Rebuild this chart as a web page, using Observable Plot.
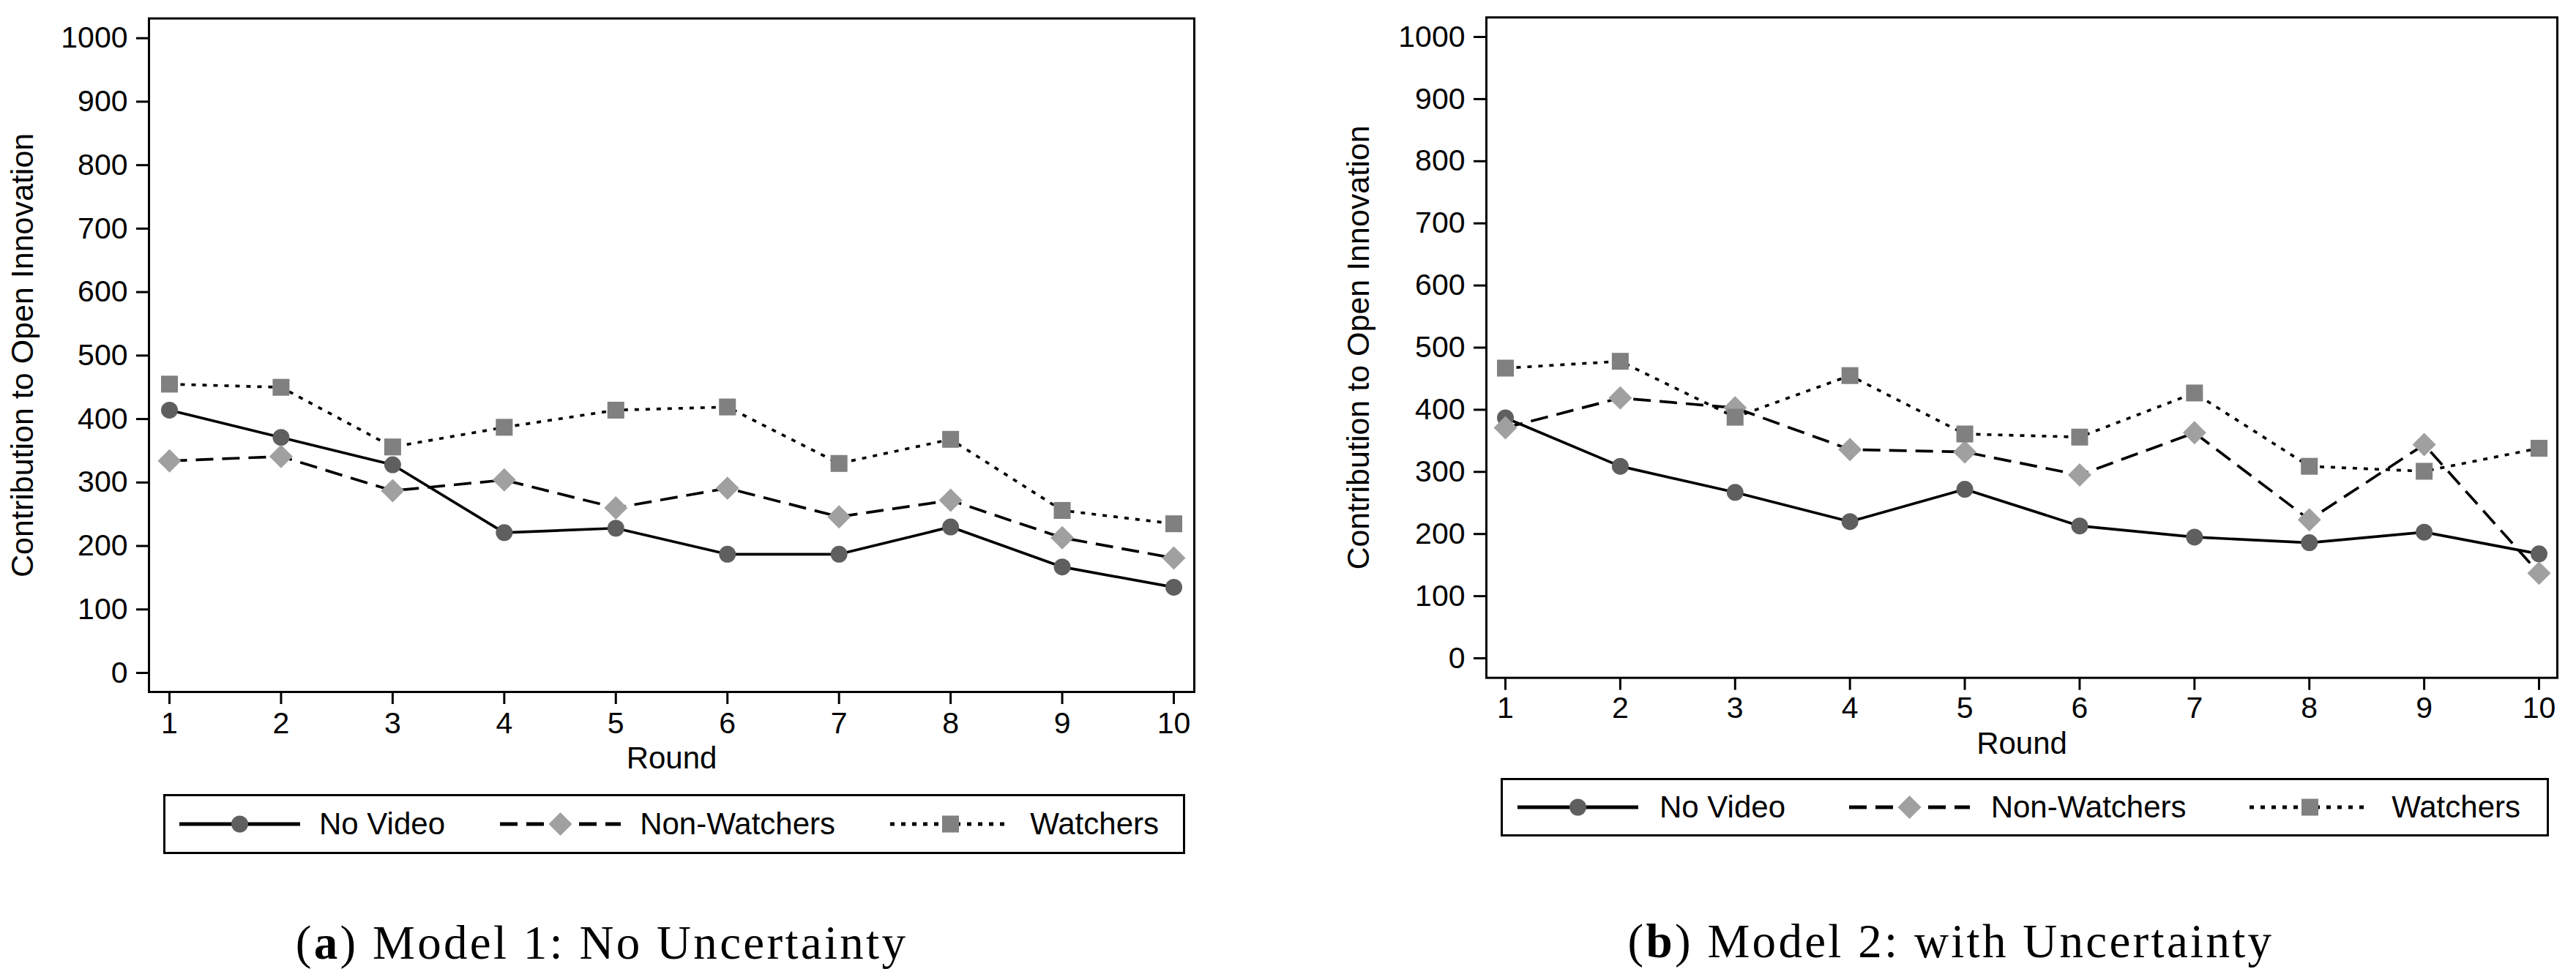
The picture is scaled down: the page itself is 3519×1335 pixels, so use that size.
<!DOCTYPE html>
<html>
<head>
<meta charset="utf-8">
<script src="https://cdn.jsdelivr.net/npm/d3@7"></script>
<script src="https://cdn.jsdelivr.net/npm/@observablehq/plot@0.6"></script>
<style>
  html, body { margin: 0; padding: 0; background: #fff; }
  body { width: 3519px; height: 1335px; position: relative; overflow: hidden; font-family: "Liberation Sans", Arial, sans-serif; color: #000; }
  .panel { position: absolute; top: 0; }
  .legend { position: absolute; box-sizing: border-box; border: 3px solid #000; display: flex; align-items: center; justify-content: space-between; }
  .entry { display: flex; align-items: center; font-size: 42px; }
  .entry svg { display: block; }
  .caption { position: absolute; font-family: "Liberation Serif", "DejaVu Serif", serif; font-size: 65px; line-height: 65px; letter-spacing: 3.3px; white-space: nowrap; text-align: center; }
</style>
</head>
<body>
<div id="left" class="panel" style="left:0px"></div>
<div id="right" class="panel" style="left:1800px"></div>
<div id="legend-a" class="legend" style="left:223px;top:1085px;width:1396px;height:82px;padding:0 33px 0 19px"></div>
<div id="legend-b" class="legend" style="left:2050px;top:1063px;width:1432px;height:80px;padding:0 36px 0 20px"></div>
<div class="caption" style="left:322px;width:1000px;top:1256px">(<b>a</b>) Model 1: No Uncertainty</div>
<div class="caption" style="left:2165px;width:1000px;top:1254px">(<b>b</b>) Model 2: with Uncertainty</div>
<script>
/*
    CONTRIBUTION TO OPEN INNOVATION BY ROUND
*/
const rounds = [1, 2, 3, 4, 5, 6, 7, 8, 9, 10];
const seriesNames = ["No Video", "Non-Watchers", "Watchers"];
const yTicks = [0, 100, 200, 300, 400, 500, 600, 700, 800, 900, 1000];

// (a) Model 1: No Uncertainty
const model1_NoVideo = [414, 371, 328, 221, 228, 187, 187, 230, 167, 135];
const model1_NonWatchers = [334, 341, 287, 304, 260, 291, 246, 272, 213, 181];
const model1_Watchers = [455, 450, 356, 387, 414, 419, 330, 368, 256, 235];

// (b) Model 2: with Uncertainty
const model2_NoVideo = [387, 309, 267, 220, 272, 213, 195, 186, 203, 168];
const model2_NonWatchers = [371, 419, 403, 336, 332, 295, 363, 223, 344, 137];
const model2_Watchers = [467, 478, 388, 455, 361, 356, 427, 309, 301, 338];

const looks = {
    "No Video": { dash: undefined, symbol: "circle", fill: "#5f5f5f", r: 11.5 },
    "Non-Watchers": { dash: "24,12", symbol: "diamond2", fill: "#a0a0a0", r: 14.4 },
    "Watchers": { dash: "6,9", symbol: "square", fill: "#808080", r: 13 }
};
const symbolTypes = { circle: d3.symbolCircle, diamond2: d3.symbolDiamond2, square: d3.symbolSquare };

function toRows(values) {
    return seriesNames.flatMap((name, s) => rounds.map((round, i) => ({ round: round, value: values[s][i], series: name })));
}

function getPlot_Panel(values, box) {
    const rows = toRows(values);
    return Plot.plot({
        width: box.width,
        height: box.height,
        marginLeft: box.marginLeft,
        marginTop: box.marginTop,
        marginRight: box.marginRight,
        marginBottom: box.marginBottom,
        style: { fontFamily: "'Liberation Sans', Arial, sans-serif", fontSize: "41px", color: "#000", background: "#fff", maxWidth: "none", overflow: "visible" },
        x: { domain: [1, 10], insetLeft: box.insetLeft, insetRight: box.insetRight, label: null },
        y: { domain: [0, 1000], insetTop: box.insetTop, insetBottom: box.insetBottom, label: null },
        marks: [
            Plot.frame({ stroke: "#000", strokeWidth: 3 }),
            Plot.axisX({ ticks: rounds, tickSize: 17, tickPadding: box.xPad, strokeWidth: 3, tickFormat: "d", label: null }),
            Plot.axisY({ ticks: yTicks, tickSize: 17, tickPadding: 12, strokeWidth: 3, tickFormat: "d", label: null }),
            ...seriesNames.map(name => Plot.line(rows, {
                filter: d => d.series === name, x: "round", y: "value",
                stroke: "#000", strokeWidth: 3.7, strokeLinecap: "butt", strokeDasharray: looks[name].dash
            })),
            ...seriesNames.map(name => Plot.dot(rows, {
                filter: d => d.series === name, x: "round", y: "value",
                symbol: looks[name].symbol, r: looks[name].r, fill: looks[name].fill
            })),
            Plot.text(["Contribution to Open Innovation"], { text: d => d, frameAnchor: "left", rotate: -90, dx: box.titleDx, fontSize: 43, textAnchor: "middle", lineAnchor: "middle" }),
            Plot.text(["Round"], { text: d => d, frameAnchor: "bottom", dy: box.roundDy, fontSize: 42, lineAnchor: "middle" })
        ]
    });
}

function addLegend(id, gap) {
    const el = document.getElementById(id);
    for (const name of seriesNames) {
        const look = looks[name];
        const entry = document.createElement("div");
        entry.className = "entry";
        entry.style.gap = gap + "px";
        const svg = d3.create("svg").attr("width", 165).attr("height", 40);
        svg.append("line").attr("x1", 0).attr("x2", 165).attr("y1", 20).attr("y2", 20)
            .attr("stroke", "#000").attr("stroke-width", 5).attr("stroke-dasharray", look.dash || null);
        svg.append("path").attr("transform", "translate(82.5,20)")
            .attr("d", d3.symbol(symbolTypes[look.symbol], look.r * look.r * Math.PI)())
            .attr("fill", look.fill);
        entry.append(svg.node());
        const label = document.createElement("span");
        label.textContent = name;
        entry.append(label);
        el.append(entry);
    }
}

document.getElementById("left").append(getPlot_Panel(
    [model1_NoVideo, model1_NonWatchers, model1_Watchers],
    { width: 1760, height: 1070, marginLeft: 203, marginTop: 24.7, marginRight: 129, marginBottom: 125,
      insetLeft: 28, insetRight: 28, insetTop: 27, insetBottom: 26, xPad: 10, titleDx: -172, roundDy: 91 }
));
document.getElementById("right").append(getPlot_Panel(
    [model2_NoVideo, model2_NonWatchers, model2_Watchers],
    { width: 1719, height: 1070, marginLeft: 230, marginTop: 23.3, marginRight: 26, marginBottom: 144.3,
      insetLeft: 26, insetRight: 25, insetTop: 26.7, insetBottom: 26.7, xPad: 9, titleDx: -174, roundDy: 90 }
));
addLegend("legend-a", 26);
addLegend("legend-b", 29);
</script>
</body>
</html>
